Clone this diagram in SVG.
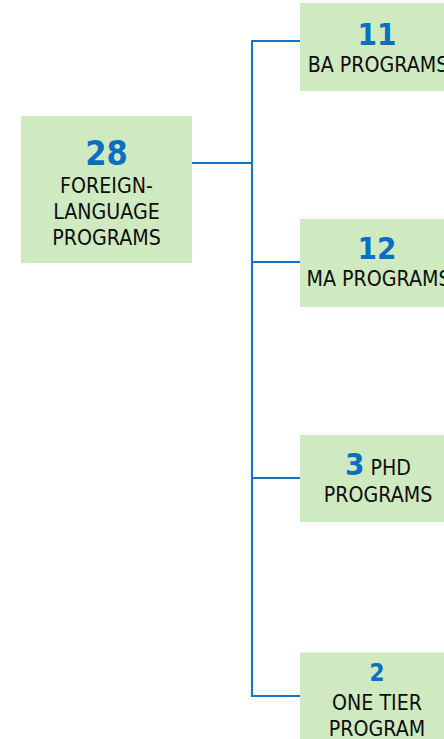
<svg xmlns="http://www.w3.org/2000/svg" width="444" height="739" viewBox="0 0 444 739">
<style>
.box{fill:#cfeac1}
.lbl{font-family:"DejaVu Sans Condensed","DejaVu Sans",sans-serif;font-stretch:condensed;font-size:21.2px;fill:#0d0d0d;text-anchor:middle}
.num{font-family:"DejaVu Sans Condensed","DejaVu Sans",sans-serif;font-stretch:condensed;font-weight:bold;fill:#0a6fc2;text-anchor:middle}
.conn{fill:none;stroke:#1673c6;stroke-width:2}
</style>
<rect width="444" height="739" fill="#ffffff"/>
<g id="connectors">
<path class="conn" d="M192,163 H252"/>
<path class="conn" d="M300,41 H252 V696 H300"/>
<path class="conn" d="M252,262 H300"/>
<path class="conn" d="M252,478 H300"/>
</g>
<g id="root">
<rect class="box" x="21" y="116" width="171" height="147"/>
<text class="num" x="106.5" y="165" font-size="34">28</text>
<text class="lbl" x="106.5" y="192.5">FOREIGN-</text>
<text class="lbl" x="106.5" y="218.5">LANGUAGE</text>
<text class="lbl" x="106.5" y="244.5">PROGRAMS</text>
</g>
<g id="ba">
<rect class="box" x="300" y="3" width="154" height="88"/>
<text class="num" x="377" y="45" font-size="31">11</text>
<text class="lbl" x="378" y="72">BA PROGRAMS</text>
</g>
<g id="ma">
<rect class="box" x="300" y="219" width="154" height="88"/>
<text class="num" x="377" y="259" font-size="31">12</text>
<text class="lbl" x="378.5" y="285.5">MA PROGRAMS</text>
</g>
<g id="phd">
<rect class="box" x="300" y="435" width="154" height="87"/>
<text class="lbl" x="378" y="475"><tspan class="num" font-size="31">3</tspan> PHD</text>
<text class="lbl" x="378" y="501.5">PROGRAMS</text>
</g>
<g id="onetier">
<rect class="box" x="300" y="652.5" width="154" height="87"/>
<text class="num" x="377" y="681" font-size="24">2</text>
<text class="lbl" x="377" y="710">ONE TIER</text>
<text class="lbl" x="377" y="735.5">PROGRAM</text>
</g>
</svg>
